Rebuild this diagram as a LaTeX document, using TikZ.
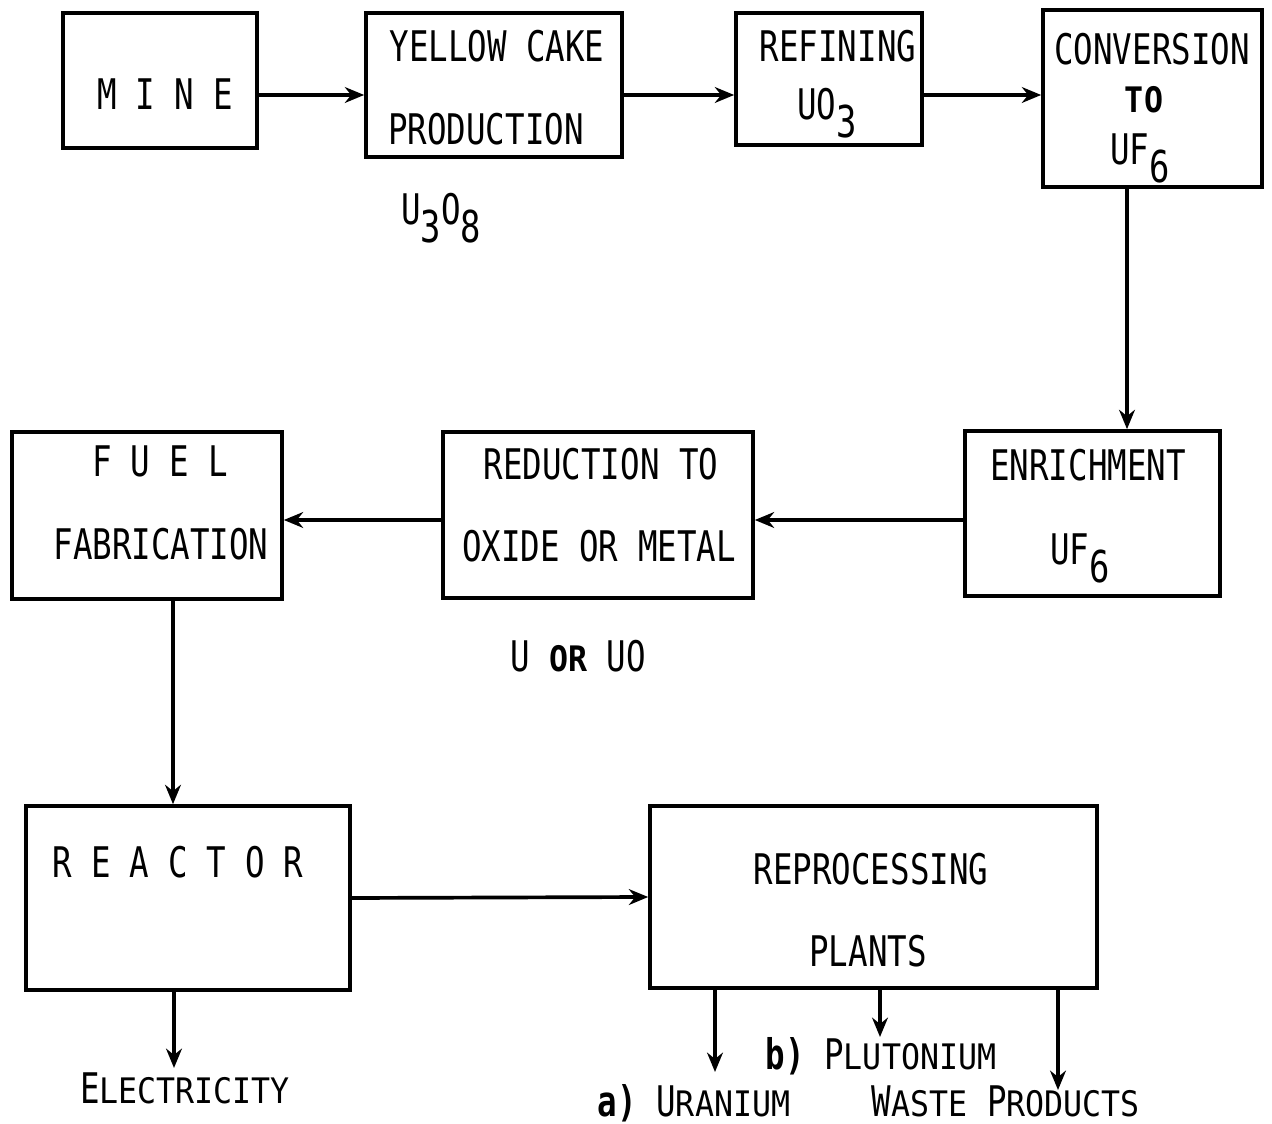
\documentclass[tikz,border=0pt]{standalone}
\usepackage{fontspec}
\setmainfont{DejaVu Sans Mono}[FakeStretch=0.77]
\newfontfamily\scfont{DejaVu Sans Mono}[FakeStretch=0.9]
\usetikzlibrary{arrows.meta}
\newcommand\dn[1]{\raisebox{-0.42em}{\fontsize{25}{25}\selectfont #1}}
\newcommand\smc[1]{{\scfont\fontsize{20}{20}\selectfont #1}}
\newcommand\lsp{\hspace{0.38cm}}
\begin{document}
\begin{tikzpicture}[x=0.02cm,y=-0.02cm,
  box/.style={draw,line width=2.1pt,inner sep=0pt,rectangle},
  txt/.style={anchor=base,inner sep=0pt,font=\fontsize{24}{24}\selectfont},
  arr/.style={line width=2.1pt,-{Stealth[length=11pt,width=9pt]}}]
\useasboundingbox (0,0) rectangle (1272,1124);
% boxes
\node[box,minimum width=3.88cm,minimum height=2.70cm] (mine)  at (160,80.5) {};
\node[box,minimum width=5.12cm,minimum height=2.88cm] (yellow) at (494,85) {};
\node[box,minimum width=3.72cm,minimum height=2.64cm] (refin) at (829,79) {};
\node[box,minimum width=4.38cm,minimum height=3.54cm] (conv)  at (1152.5,98.5) {};
\node[box,minimum width=5.10cm,minimum height=3.30cm] (enr)   at (1092.5,513.5) {};
\node[box,minimum width=6.20cm,minimum height=3.32cm] (red)   at (598,515) {};
\node[box,minimum width=5.40cm,minimum height=3.34cm] (fuel)  at (147,515.5) {};
\node[box,minimum width=6.48cm,minimum height=3.68cm] (react) at (188,898) {};
\node[box,minimum width=8.94cm,minimum height=3.64cm] (repro) at (873.5,897) {};
% texts in boxes
\node[txt] (tmine) at (165,110) {M\lsp I\lsp N\lsp E};
\node[txt] (ty1) at (497,62) {YELLOW CAKE};
\node[txt] (ty2) at (486,145) {PRODUCTION};
\node[txt] (tr1) at (838,62) {REFINING};
\node[txt] (tr2) at (827,120) {UO\dn{3}};
\node[txt] (tc1) at (1152,65) {CONVERSION};
\node[txt] (tc2) at (1144,113) {\smc{\bfseries TO}};
\node[txt] (tc3) at (1140,165) {UF\dn{6}};
\node[txt] (tu38) at (441,225) {U\dn{3}O\dn{8}};
\node[txt] (te1) at (1088,481) {ENRICHMENT};
\node[txt] (te2) at (1080,565) {UF\dn{6}};
\node[txt] (trd1) at (601,480) {REDUCTION TO};
\node[txt] (trd2) at (599,562) {OXIDE OR METAL};
\node[txt] (tf1) at (160,477) {F\lsp U\lsp E\lsp L};
\node[txt] (tf2) at (161,560) {FABRICATION};
\node[txt] (tuo) at (578,672) {U \smc{\bfseries OR} UO};
\node[txt] (trc) at (178,878) {R\lsp E\lsp A\lsp C\lsp T\lsp O\lsp R};
\node[txt] (tp1) at (871,885) {REPROCESSING};
\node[txt] (tp2) at (868,967) {PLANTS};
% output labels
\node[txt] (elec) at (185,1103) {E\smc{LECTRICITY}};
\node[txt] (plut) at (881,1070) {{\bfseries b)} P\smc{LUTONIUM}};
\node[txt] (uran) at (694,1116) {{\bfseries a)} U\smc{RANIUM}};
\node[txt] (waste) at (1006,1116) {W\smc{ASTE} P\smc{RODUCTS}};
% helper coordinates
\coordinate (h95) at (0,95);
\coordinate (h520) at (0,520);
\coordinate (v1127) at (1127,0);
\coordinate (v173) at (173,0);
\coordinate (v174) at (174,0);
\coordinate (v715) at (715,0);
\coordinate (v880) at (880,0);
\coordinate (v1058) at (1058,0);
\coordinate (eEl) at (174,1068);
\coordinate (eUr) at (715,1072);
\coordinate (ePl) at (880,1037);
\coordinate (eWa) at (1058,1090);
% connectors
\draw[arr] (mine.east |- h95) -- (yellow.west |- h95);
\draw[arr] (yellow.east |- h95) -- (refin.west |- h95);
\draw[arr] (refin.east |- h95) -- (conv.west |- h95);
\draw[arr] (conv.south -| v1127) -- (enr.north -| v1127);
\draw[arr] (enr.west |- h520) -- (red.east |- h520);
\draw[arr] (red.west |- h520) -- (fuel.east |- h520);
\draw[arr] (fuel.south -| v173) -- (react.north -| v173);
\draw[arr] (react.east) -- (repro.west);
\draw[arr] (react.south -| v174) -- (eEl);
\draw[arr] (repro.south -| v715) -- (eUr);
\draw[arr] (repro.south -| v880) -- (ePl);
\draw[arr] (repro.south -| v1058) -- (eWa);
\end{tikzpicture}
\end{document}
